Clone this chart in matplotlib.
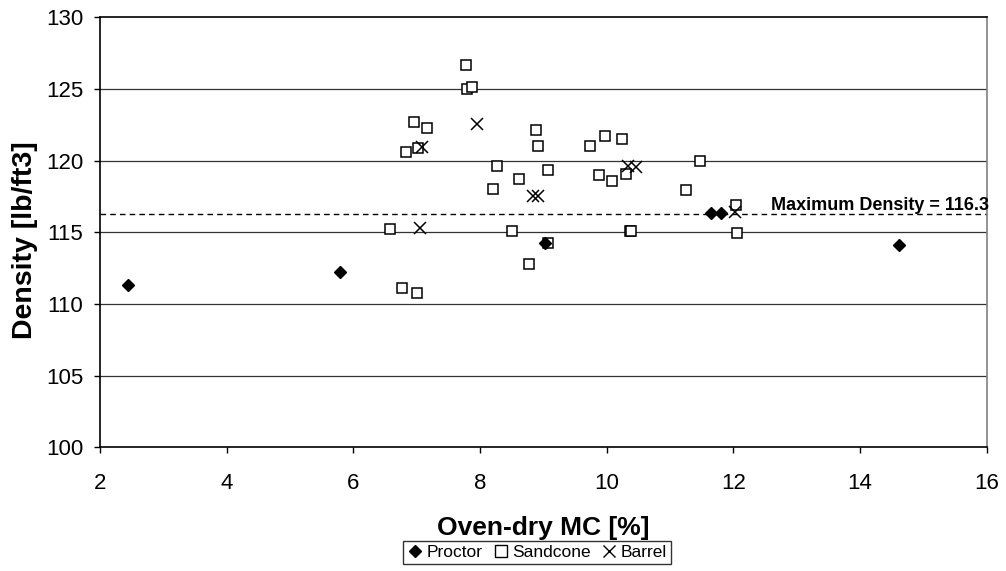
import matplotlib
matplotlib.use("Agg")
import matplotlib.pyplot as plt
from matplotlib.lines import Line2D

plt.rcParams['font.family'] = ['Liberation Sans', 'DejaVu Sans']

# Proctor compaction tests
proctor_mc = [2.45, 5.79, 9.03, 11.64, 11.81, 14.62]
proctor_density = [111.3, 112.25, 114.27, 116.32, 116.32, 114.11]

# Sand cone field tests
sandcone_mc = [7.78, 7.80, 7.88, 6.95, 7.17, 6.83, 7.02, 8.89, 8.91, 9.74,
               9.98, 10.24, 8.27, 8.61, 9.07, 8.20, 9.88, 10.09, 10.31, 11.48,
               11.25, 12.04, 12.05, 10.37, 10.39, 6.58, 8.51, 9.07, 8.77, 6.77,
               7.01]
sandcone_density = [126.67, 124.98, 125.12, 122.69, 122.30, 120.62, 120.88,
                    122.14, 121.0, 121.02, 121.74, 121.53, 119.64, 118.74,
                    119.34, 118.04, 119.02, 118.58, 119.09, 119.97, 117.95,
                    116.88, 114.97, 115.09, 115.09, 115.25, 115.11, 114.27,
                    112.81, 111.09, 110.78]

# Barrel tests
barrel_mc = [7.95, 7.08, 10.33, 10.47, 8.84, 8.92, 7.05, 12.03]
barrel_density = [122.55, 120.97, 119.64, 119.53, 117.55, 117.55, 115.32, 116.43]

max_density = 116.3

x_ticks = [2, 4, 6, 8, 10, 12, 14, 16]
y_ticks = [100, 105, 110, 115, 120, 125, 130]

fig = plt.figure(figsize=(10.06, 5.71), dpi=100, facecolor='white')
ax = fig.add_axes([0.0994, 0.2166, 0.8814, 0.7531])

ax.set_xlim(2, 16)
ax.set_ylim(100, 130)
ax.set_xticks(x_ticks)
ax.set_yticks(y_ticks)

for y in y_ticks[1:-1]:
    ax.axhline(y, color='#333333', lw=0.9, zorder=1)

ax.axhline(max_density, color='black', lw=1.0, ls=(0, (4, 3)), zorder=2)
ax.text(12.6, 116.55, 'Maximum Density = 116.3', fontsize=13,
        fontweight='bold', ha='left', va='baseline', clip_on=False, zorder=5)

ax.plot(sandcone_mc, sandcone_density, ls='none', marker='s', ms=7,
        mfc='white', mec='black', mew=1.1, zorder=3)
ax.plot(barrel_mc, barrel_density, ls='none', marker='x', ms=8,
        color='black', mew=1.1, zorder=4)
ax.plot(proctor_mc, proctor_density, ls='none', marker='D', ms=6.5,
        color='black', zorder=5)

for side in ['left', 'bottom', 'top']:
    ax.spines[side].set_color('black')
    ax.spines[side].set_linewidth(1.2)
ax.spines['right'].set_color('#808080')
ax.spines['right'].set_linewidth(1.2)

ax.tick_params(axis='both', direction='out', length=4.5, width=1,
               labelsize=16, color='black')
ax.tick_params(axis='x', pad=14)
ax.tick_params(axis='y', pad=7.5)

ax.set_xlabel('Oven-dry MC [%]', fontsize=19, fontweight='bold', labelpad=16)
ax.set_ylabel('Density [lb/ft3]', fontsize=20.5, fontweight='bold', labelpad=6,
              y=0.482)

handles = [
    Line2D([], [], ls='none', marker='D', ms=6.5, color='black'),
    Line2D([], [], ls='none', marker='s', ms=8.5, mfc='white', mec='black', mew=1.0),
    Line2D([], [], ls='none', marker='x', ms=9, color='black', mew=1.0),
]
leg = fig.legend(handles, ['Proctor', 'Sandcone', 'Barrel'], ncol=3,
                 loc='center', bbox_to_anchor=(537 / 1006, 1 - 552.5 / 571),
                 fontsize=12.5, frameon=True, fancybox=False,
                 edgecolor='black', handlelength=0.9, handletextpad=0.2,
                 columnspacing=0.6, borderpad=0.25, borderaxespad=0)
leg.get_frame().set_linewidth(1.0)

fig.savefig('out.png', dpi=100, facecolor='white')
